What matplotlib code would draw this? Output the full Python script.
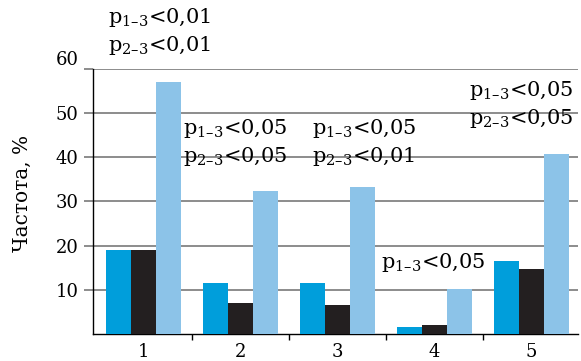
import matplotlib
matplotlib.use('Agg')
import matplotlib.pyplot as plt
import matplotlib.transforms as mtransforms
import numpy as np

plt.rcParams['font.family'] = 'DejaVu Serif'
plt.rcParams['mathtext.fontset'] = 'dejavuserif'

# data
groups = ['1', '2', '3', '4', '5']
series1 = [19.0, 11.5, 11.5, 1.6, 16.5]   # blue
series2 = [19.0, 7.1, 6.6, 2.1, 14.7]     # black
series3 = [57.0, 32.3, 33.3, 10.3, 40.6]  # light blue
yticks = [10, 20, 30, 40, 50, 60]

notes = [
    ['p$_{1\u20133}$<0,01', 'p$_{2\u20133}$<0,01'],
    ['p$_{1\u20133}$<0,05', 'p$_{2\u20133}$<0,05'],
    ['p$_{1\u20133}$<0,05', 'p$_{2\u20133}$<0,01'],
    ['p$_{1\u20133}$<0,05'],
    ['p$_{1\u20133}$<0,05', 'p$_{2\u20133}$<0,05'],
]
# position of the first line of each note (data coords)
note_pos = [(-0.37, 70.3), (0.41, 45.3), (1.74, 45.3), (2.45, 15.0), (3.36, 53.8)]

colors = ['#009edb', '#231f20', '#8cc3e8']

fig = plt.figure(figsize=(5.81, 3.61), dpi=100)
ax = fig.add_axes([0.160, 0.074, 0.835, 0.736])

x = np.arange(len(groups))
w = 0.26
ax.bar(x - w, series1, w, color=colors[0], zorder=3)
ax.bar(x, series2, w, color=colors[1], zorder=3)
ax.bar(x + w, series3, w, color=colors[2], zorder=3)

ax.set_xlim(-0.52, 4.48)
ax.set_ylim(0, 60)

for y in yticks:
    ax.axhline(y, color='#6e6e6e', lw=1.1, zorder=1)

ax.set_yticks(yticks)
ax.tick_params(axis='y', length=6.5, width=1.1, color='#6e6e6e', pad=4, labelsize=13)
ax.set_xticks(x)
ax.set_xticklabels(groups, fontsize=13)
ax.set_xticks([0.5, 1.5, 2.5, 3.5], minor=True)
ax.tick_params(axis='x', which='major', length=0, pad=6)
ax.tick_params(axis='x', which='minor', length=4, width=1, color='black', direction='out')

# top label sits a bit above its gridline
lab60 = ax.get_yticklabels()[-1]
lab60.set_transform(lab60.get_transform() + mtransforms.ScaledTranslation(0, 11 / 100, fig.dpi_scale_trans))

for s in ['top', 'right']:
    ax.spines[s].set_visible(False)
ax.spines['left'].set_color('black')
ax.spines['left'].set_linewidth(1)
ax.spines['bottom'].set_color('black')
ax.spines['bottom'].set_linewidth(1)

ax.set_ylabel('Частота, %', fontsize=14.5)
ax.yaxis.set_label_coords(-0.125, 0.53)

for (nx, ny), lines in zip(note_pos, notes):
    for i, t in enumerate(lines):
        ax.text(nx, ny, t, fontsize=15, ha='left', va='baseline', clip_on=False,
                transform=ax.transData + mtransforms.ScaledTranslation(0, -i * 28 / 100, fig.dpi_scale_trans))

fig.savefig('out.png', dpi=100)
